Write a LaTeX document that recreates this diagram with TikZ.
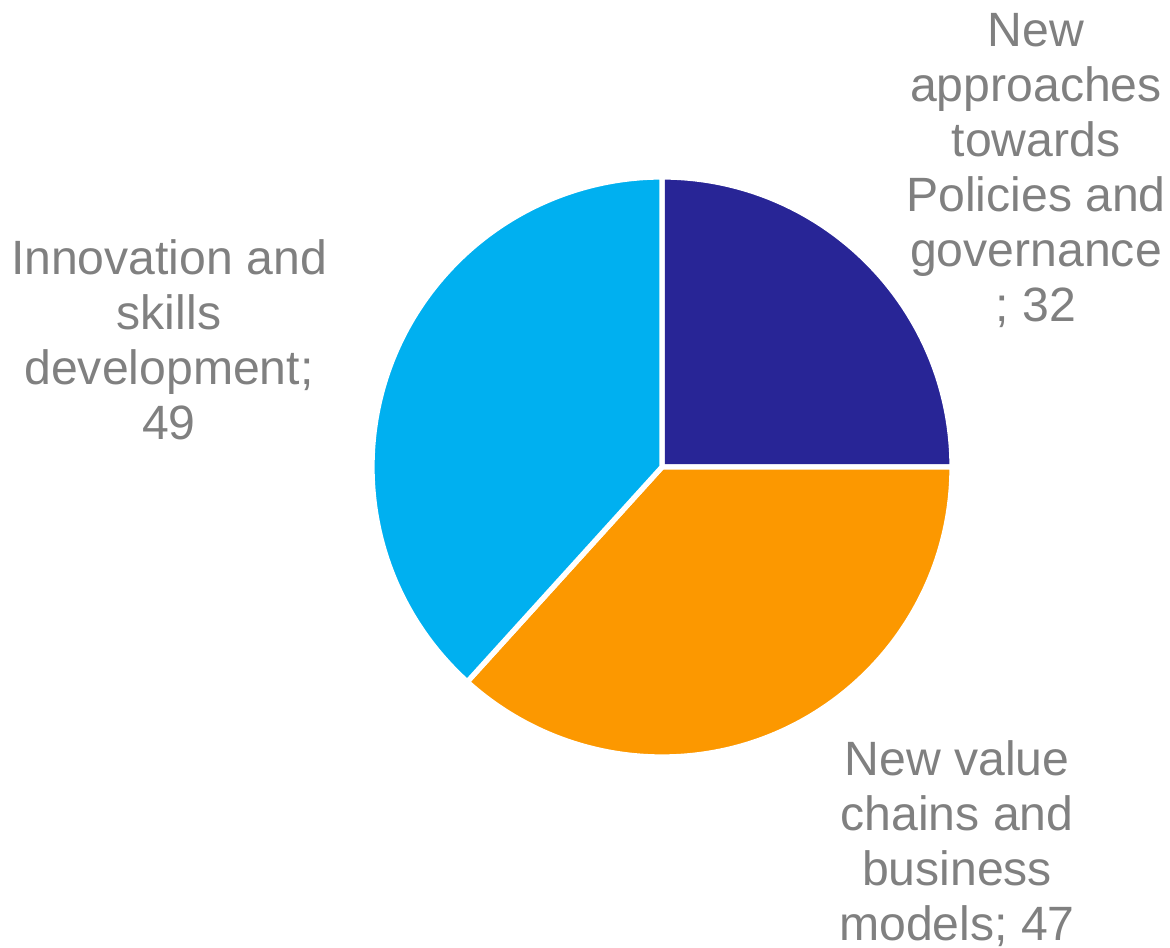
\documentclass[tikz,border=0pt]{standalone}
\usepackage{fontspec}
\setmainfont{Liberation Sans}
\usepackage{tikz}
\usetikzlibrary{positioning}
\definecolor{policyblue}{RGB}{40,37,150}
\definecolor{chainorange}{RGB}{252,152,0}
\definecolor{skillcyan}{RGB}{0,176,240}
\definecolor{labelgrey}{RGB}{128,128,128}

\begin{document}
\begin{tikzpicture}[
  slice/.style={draw=white,line width=1.5pt,line join=round},
  pielabel/.style={labelgrey,align=center,inner sep=0pt,
    font=\fontsize{13.7}{15.65}\selectfont}]
  \useasboundingbox (0,0) rectangle (11.70,9.48);
  \coordinate (centre) at (6.62,4.81);
  % 32 + 47 + 49 = 128, from the top, clockwise
  \fill[policyblue,slice] (centre) -- ++(90:2.90) arc (90:0:2.90) -- cycle;
  \fill[chainorange,slice] (centre) -- ++(0:2.90) arc (0:-132.19:2.90) -- cycle;
  \fill[skillcyan,slice] (centre) -- ++(-132.19:2.90) arc (-132.19:-270:2.90) -- cycle;
  \node[pielabel] (policies) at (10.36,7.77) {New\\approaches\\towards\\Policies and\\governance\\; 32};
  \node[pielabel] (chains) at (9.57,1.04) {New value\\chains and\\business\\models; 47};
  \node[pielabel] (skills) at (1.69,6.08) {Innovation and\\skills\\development;\\49};
\end{tikzpicture}
\end{document}
